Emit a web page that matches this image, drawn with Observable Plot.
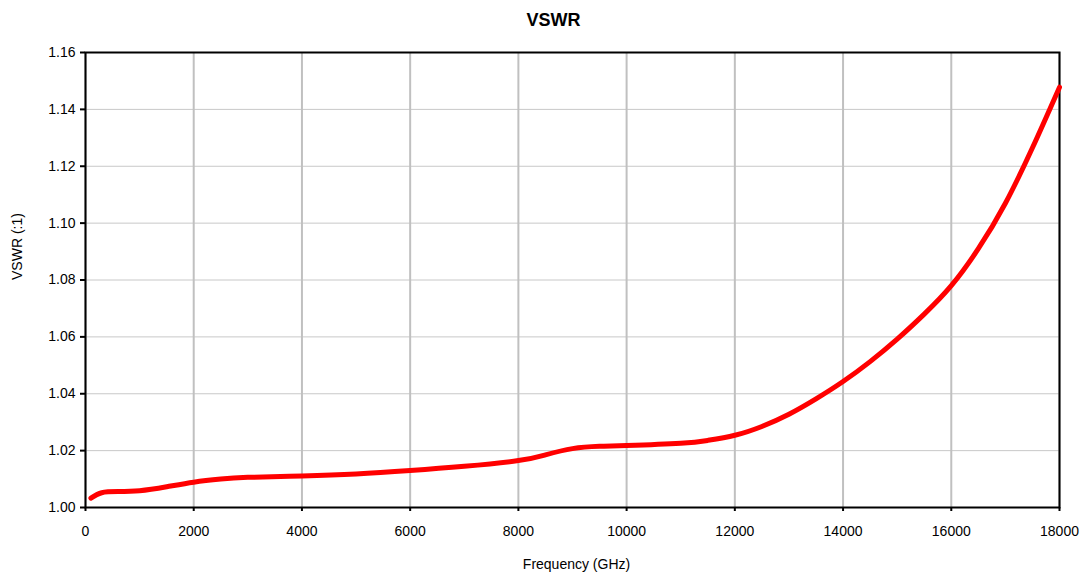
<!DOCTYPE html>
<html>
<head>
<meta charset="utf-8">
<script src="https://cdn.jsdelivr.net/npm/d3@7"></script>
<script src="https://cdn.jsdelivr.net/npm/@observablehq/plot@0.6"></script>
<style>
  html, body { margin: 0; padding: 0; background: #fff; }
  #chart { width: 1085px; height: 575px; }
</style>
</head>
<body>
<div id="chart"></div>
<script>
const titleText = "VSWR";
const xLabel = "Frequency (GHz)";
const yLabel = "VSWR (:1)";
const xTicks = [0, 2000, 4000, 6000, 8000, 10000, 12000, 14000, 16000, 18000];
const yTicks = [1.00, 1.02, 1.04, 1.06, 1.08, 1.10, 1.12, 1.14, 1.16];
const freq = [100, 300, 600, 1000, 1500, 2000, 2500, 3000, 4000, 5000, 6000, 7000, 8000, 8500, 9000, 9500, 10000, 11000, 11500, 12000, 12500, 13000, 13500, 14000, 14500, 15000, 15500, 16000, 16500, 17000, 17500, 18000];
const vswr = [1.0033, 1.0052, 1.0056, 1.0059, 1.0073, 1.0089, 1.0100, 1.0106, 1.0111, 1.0118, 1.0130, 1.0145, 1.0165, 1.0185, 1.0207, 1.0215, 1.0218, 1.0226, 1.0236, 1.0254, 1.0285, 1.0328, 1.0382, 1.0443, 1.0513, 1.0592, 1.0680, 1.0780, 1.0910, 1.1070, 1.1265, 1.1478];

const data = freq.map((f, i) => ({f, v: vswr[i]}));

const chart = Plot.plot({
  width: 1085,
  height: 575,
  marginLeft: 85,
  marginRight: 26,
  marginTop: 52,
  marginBottom: 68,
  style: {fontFamily: "'Liberation Sans', Arial, sans-serif", fontSize: "14px", color: "#000", background: "#fff"},
  x: {domain: [0, 18000], ticks: xTicks, tickFormat: d => String(d)},
  y: {domain: [1.00, 1.16], ticks: yTicks, tickFormat: d => d.toFixed(2)},
  marks: [
    Plot.ruleY(yTicks, {stroke: "#c8c8c8", strokeWidth: 1}),
    Plot.ruleX(xTicks, {stroke: "#c0c0c0", strokeWidth: 2}),
    Plot.frame({stroke: "#000", strokeWidth: 2}),
    Plot.axisX({ticks: xTicks, tickFormat: d => String(d), tickSize: 4, tickPadding: 15, stroke: "#000", strokeWidth: 2, label: null, fontSize: 14}),
    Plot.axisY({ticks: yTicks, tickFormat: d => d.toFixed(2), tickSize: 5, tickPadding: 5, stroke: "#000", strokeWidth: 2, label: null, fontSize: 14}),
    Plot.line(data, {x: "f", y: "v", stroke: "#ff0000", strokeWidth: 5, curve: "natural", strokeLinecap: "round"}),
    Plot.text([titleText], {frameAnchor: "top", dy: -39, fontSize: 18, fontWeight: "bold", dx: -19}),
    Plot.text([xLabel], {frameAnchor: "bottom", dy: 61, fontSize: 14, dx: 4}),
    Plot.text([yLabel], {frameAnchor: "left", dx: -68, rotate: -90, fontSize: 14})
  ]
});
document.getElementById("chart").appendChild(chart);
</script>
</body>
</html>
